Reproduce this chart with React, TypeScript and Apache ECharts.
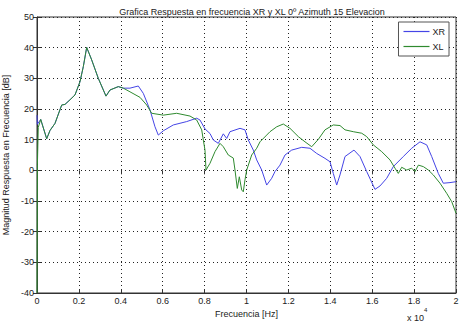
import React, { useEffect, useRef } from "react";
import * as echarts from "echarts";

const TITLE = "Grafica Respuesta en frecuencia XR y XL 0º Azimuth 15 Elevacion";
const X_NAME = "Frecuencia [Hz]";
const Y_NAME = "Magnitud Respuesta en Frecuencia [dB]";
const SERIES_NAMES = ["XR", "XL"];
const X_TICKS = ["0", "0.2", "0.4", "0.6", "0.8", "1", "1.2", "1.4", "1.6", "1.8", "2"];

// Common part of both curves (Hz, dB)
const commonFreq = [177, 463, 621, 859, 1179, 1336, 1575, 1814, 2052, 2210, 2372, 2611, 2926, 3293, 3484, 3881, 4119];
const commonDb = [16.6, 10.3, 13, 15.3, 21.3, 21.5, 23, 24.6, 28.9, 33.8, 40.1, 36, 30, 24.2, 26.2, 27.3, 26.8];

// XR (blue)
const xrStartFreq = [0, 14];
const xrStartDb = [18, 15];
const xrFreq = [4439, 4835, 5074, 5394, 5632, 5790, 6029, 6506, 7146, 7623, 7780, 8019, 8258, 8415, 8654, 8893, 9055, 9212, 9690, 9928, 10086, 10325, 10487, 10726, 10964, 11203, 11360, 11599, 11838, 12157, 12635, 13031, 13351, 13747, 13986, 14143, 14306, 14463, 14702, 15131, 15417, 15737, 16133, 16371, 16692, 17007, 17485, 17886, 18282, 18602, 18840, 19155, 19394, 19714, 20000];
const xrDb = [26.8, 27.5, 25.1, 19.7, 14.2, 11.5, 12.9, 14.8, 15.9, 17, 16.4, 13.5, 12, 9.9, 8.8, 11.9, 10.4, 12.6, 13.7, 13.2, 9.9, 6.6, 3.4, 0.1, -4.8, -2.6, -0.4, 1.7, 5, 6.6, 7.5, 7.2, 5.5, 3.9, 2.8, -1, -4.8, -1.5, 4.5, 6.6, 4.5, -0.4, -6.2, -5.1, -2.6, 1.2, 4.5, 7.2, 9.3, 8.3, 4.5, -1, -4.2, -4, -3.7];

// XL (green)
const xlStartFreq = [0, 20, 60];
const xlStartDb = [-40, 2, 14];
const xlFreq = [4439, 4916, 5236, 5475, 6029, 6668, 7303, 7623, 7862, 7938, 8019, 8067, 8258, 8496, 8735, 8893, 9131, 9370, 9451, 9561, 9657, 9771, 9847, 9928, 10010, 10248, 10487, 10644, 10964, 11121, 11442, 11757, 12076, 12473, 12793, 13112, 13428, 13747, 14143, 14463, 14702, 15098, 15499, 15737, 16052, 16453, 16850, 17088, 17246, 17408, 17647, 17886, 18043, 18205, 18444, 18678, 18916, 19236, 19556, 19795, 20000];
const xlDb = [25.6, 23.8, 21.3, 18.6, 18, 18.6, 17.7, 16.4, 13.2, 9.9, 6.6, 0.1, 2.3, 6.1, 8.8, 7.7, 5, 4, 0.1, -5.9, -2.1, -6.4, -7, -3.1, 0.1, 5, 7.2, 9.3, 11.5, 12.6, 14.2, 15.1, 13.7, 11, 9.3, 7.7, 10.1, 13.2, 14.8, 14.6, 13.2, 12.6, 12.1, 11, 8.3, 6.1, 3.4, 0.7, -1, 1, 0.1, 0.7, -0.4, 1.7, 1.2, 0.1, -1.5, -4.2, -7.5, -10.2, -14];

const zip = (f: number[], d: number[]) => f.map((v, i) => [v, d[i]]);

export default function App() {
  const ref = useRef<HTMLDivElement>(null);
  useEffect(() => {
    if (!ref.current) return;
    const chart = echarts.init(ref.current, null, { renderer: "svg" });
    const font = "Liberation Sans, Arial, sans-serif";
    const xrData = [...zip(xrStartFreq, xrStartDb), ...zip(commonFreq, commonDb), ...zip(xrFreq, xrDb)];
    const xlData = [...zip(xlStartFreq, xlStartDb), ...zip(commonFreq, commonDb), ...zip(xlFreq, xlDb)];
    const gridLine = { show: true, lineStyle: { color: "#222", type: [1, 3] as any, width: 1 } };
    chart.setOption({
      animation: false,
      backgroundColor: "#fff",
      title: {
        text: TITLE,
        left: 247,
        top: 2,
        textAlign: "center",
        textStyle: { fontSize: 9, fontWeight: "normal", color: "#222", fontFamily: font },
      },
      grid: {
        left: 37, top: 17, right: 18, bottom: 35,
        containLabel: false,
        outerBoundsMode: "none",
        show: true, borderColor: "#333", borderWidth: 1, backgroundColor: "#fff",
      },
      legend: {
        data: SERIES_NAMES,
        orient: "vertical",
        right: 25,
        top: 22,
        icon: "rect",
        itemWidth: 26,
        itemHeight: 1.2,
        itemGap: 6,
        padding: [5, 4, 5, 5],
        backgroundColor: "#fff",
        borderColor: "#555",
        borderWidth: 1,
        borderRadius: 0,
        textStyle: { fontSize: 9, color: "#222", fontFamily: font, padding: [0, 0, 0, -2] },
      },
      xAxis: [
        {
          type: "value",
          min: 0,
          max: 20000,
          interval: 2000,
          name: X_NAME,
          nameLocation: "middle",
          nameGap: 14,
          nameTextStyle: { fontSize: 9, color: "#222", fontFamily: font },
          axisLine: { show: true, onZero: false, lineStyle: { color: "#333" } },
          axisTick: { show: true, inside: true, length: 4, lineStyle: { color: "#333" } },
          axisLabel: {
            fontSize: 9,
            color: "#222",
            fontFamily: font,
            margin: 3,
            formatter: (v: number) => X_TICKS[Math.round(v / 2000)],
          },
          splitLine: gridLine,
        },
        {
          type: "value",
          position: "top",
          min: 0,
          max: 20000,
          interval: 2000,
          axisLine: { show: false },
          axisTick: { show: true, inside: true, length: 4, lineStyle: { color: "#333" } },
          axisLabel: { show: false },
          splitLine: { show: false },
        },
      ],
      yAxis: [
        {
          type: "value",
          min: -40,
          max: 50,
          interval: 10,
          name: Y_NAME,
          nameLocation: "middle",
          nameGap: 21,
          nameTextStyle: { fontSize: 9, color: "#222", fontFamily: font },
          axisLine: { show: true, lineStyle: { color: "#333" } },
          axisTick: { show: true, inside: true, length: 4, lineStyle: { color: "#333" } },
          axisLabel: { fontSize: 9, color: "#222", fontFamily: font, margin: 3 },
          splitLine: gridLine,
        },
        {
          type: "value",
          position: "right",
          min: -40,
          max: 50,
          interval: 10,
          axisLine: { show: false },
          axisTick: { show: true, inside: true, length: 4, lineStyle: { color: "#333" } },
          axisLabel: { show: false },
          splitLine: { show: false },
        },
      ],
      series: [
        {
          name: SERIES_NAMES[0],
          type: "line",
          data: xrData,
          showSymbol: false,
          smooth: false,
          lineStyle: { color: "#4545e6", width: 1 },
          itemStyle: { color: "#4545e6" },
          z: 2,
        },
        {
          name: SERIES_NAMES[1],
          type: "line",
          data: xlData,
          showSymbol: false,
          smooth: false,
          lineStyle: { color: "#2f8a2f", width: 1 },
          itemStyle: { color: "#2f8a2f" },
          z: 3,
        },
      ],
      graphic: [
        {
          type: "text",
          left: 407,
          top: 307,
          style: {
            text: "{a|x 10}{b|4}",
            rich: {
              a: { fontSize: 9, fill: "#222", fontFamily: font, padding: [6, 0, 0, 0] },
              b: { fontSize: 6, fill: "#222", fontFamily: font, verticalAlign: "top" },
            },
          },
        },
      ],
    });
    return () => chart.dispose();
  }, []);
  return <div ref={ref} style={{ position: "fixed", left: 0, top: 0, width: 474, height: 328 }} />;
}
